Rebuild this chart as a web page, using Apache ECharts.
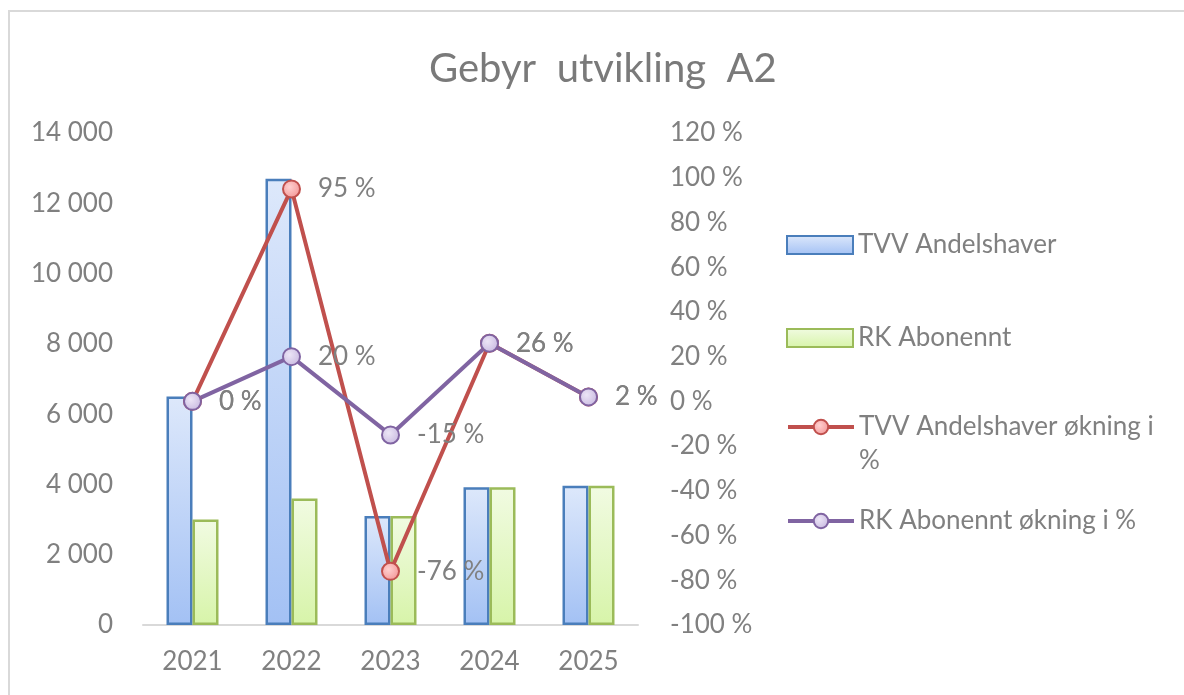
<!DOCTYPE html>
<html>
<head>
<meta charset="utf-8">
<script src="https://cdn.jsdelivr.net/npm/echarts@6/dist/echarts.min.js"></script>
<style>
html,body{margin:0;padding:0;background:#fff;}
#chart{width:1184px;height:695px;}
</style>
</head>
<body>
<div id="chart"></div>
<script>
const years = ['2021', '2022', '2023', '2024', '2025'];
const tvvAndelshaver = [6500, 12700, 3100, 3920, 3960];
const rkAbonennt = [3000, 3600, 3100, 3920, 3960];
const tvvOkning = [0, 95, -76, 26, 2];
const rkOkning = [0, 20, -15, 26, 2];
const seriesNames = ['TVV Andelshaver', 'RK Abonennt', 'TVV Andelshaver økning i %', 'RK Abonennt økning i %'];

const FONT = 'Lato';
const GRAY = '#808080';
const FS = 26;

const chart = echarts.init(document.getElementById('chart'), null, {renderer: 'canvas'});

function legendAt(name, top, extra) {
  return Object.assign({
    data: [name],
    orient: 'vertical',
    left: 781,
    top: top,
    itemWidth: 66,
    itemHeight: 18,
    lineStyle: {width: 4},
    textStyle: {color: GRAY, fontFamily: FONT, fontSize: FS}
  }, extra || {});
}

const option = {
  backgroundColor: '#fff',
  animation: false,
  title: {
    text: 'Gebyr  utvikling  A2',
    left: 424,
    top: 44,
    textStyle: {color: '#7a7a7a', fontFamily: FONT, fontSize: 40, fontWeight: 'normal'}
  },
  graphic: [{
    type: 'rect',
    shape: {x: 9, y: 11, width: 1200, height: 720},
    style: {fill: 'none', stroke: '#d9d9d9', lineWidth: 2},
    silent: true
  }],
  legend: [
    legendAt(seriesNames[0], 227, {data: [{name: seriesNames[0], icon: 'rect'}]}),
    legendAt(seriesNames[1], 320, {data: [{name: seriesNames[1], icon: 'rect'}]}),
    legendAt(seriesNames[2], 371, {
      formatter: function () { return ' \nTVV Andelshaver økning i\n%'; },
      textStyle: {color: GRAY, fontFamily: FONT, fontSize: FS, lineHeight: 34}
    }),
    legendAt(seriesNames[3], 503)
  ],
  grid: {left: 143, right: 546, top: 133, bottom: 70},
  xAxis: {
    type: 'category',
    data: years,
    axisLine: {lineStyle: {color: '#d9d9d9', width: 2}},
    axisTick: {show: false},
    axisLabel: {color: GRAY, fontFamily: FONT, fontSize: FS, margin: 24}
  },
  yAxis: [{
    type: 'value',
    min: 0, max: 14000, interval: 2000,
    splitLine: {show: false},
    axisLine: {show: false},
    axisTick: {show: false},
    axisLabel: {
      color: GRAY, fontFamily: FONT, fontSize: FS, margin: 30,
      formatter: function (v) { return String(v).replace(/\B(?=(\d{3})+(?!\d))/g, ' '); }
    }
  }, {
    type: 'value',
    min: -100, max: 120, interval: 20,
    splitLine: {show: false},
    axisLine: {show: false},
    axisTick: {show: false},
    axisLabel: {
      color: GRAY, fontFamily: FONT, fontSize: FS, margin: 32, align: 'left',
      formatter: function (v) { return v + ' %'; }
    }
  }],
  series: [{
    name: seriesNames[0],
    type: 'bar',
    data: tvvAndelshaver,
    barWidth: 26,
    barGap: '0%',
    itemStyle: {
      color: new echarts.graphic.LinearGradient(0, 0, 0, 1, [
        {offset: 0, color: '#dde8fb'}, {offset: 1, color: '#a3c1f4'}
      ]),
      borderColor: '#4a7ebb', borderWidth: 2.5
    }
  }, {
    name: seriesNames[1],
    type: 'bar',
    data: rkAbonennt,
    barWidth: 26,
    barGap: '0%',
    itemStyle: {
      color: new echarts.graphic.LinearGradient(0, 0, 0, 1, [
        {offset: 0, color: '#f1fbe2'}, {offset: 1, color: '#d7f4a9'}
      ]),
      borderColor: '#9bbb59', borderWidth: 2.5
    }
  }, {
    name: seriesNames[2],
    type: 'line',
    yAxisIndex: 1,
    data: tvvOkning,
    symbol: 'circle',
    symbolSize: 17,
    lineStyle: {color: '#c0504d', width: 4},
    itemStyle: {
      color: new echarts.graphic.RadialGradient(0.4, 0.4, 0.6, [
        {offset: 0, color: '#ffd0d0'}, {offset: 1, color: '#f49a9a'}
      ]),
      borderColor: '#c0504d', borderWidth: 2
    },
    label: {show: true, position: 'right', distance: 17, color: GRAY, fontFamily: FONT, fontSize: FS, formatter: '{c} %'}
  }, {
    name: seriesNames[3],
    type: 'line',
    yAxisIndex: 1,
    data: rkOkning,
    symbol: 'circle',
    symbolSize: 17,
    lineStyle: {color: '#8064a2', width: 4},
    itemStyle: {
      color: new echarts.graphic.RadialGradient(0.4, 0.4, 0.6, [
        {offset: 0, color: '#ece5f6'}, {offset: 1, color: '#cbbce2'}
      ]),
      borderColor: '#8064a2', borderWidth: 2
    },
    label: {show: true, position: 'right', distance: 17, color: GRAY, fontFamily: FONT, fontSize: FS, formatter: '{c} %'}
  }]
};
chart.setOption(option);
</script>
</body>
</html>
